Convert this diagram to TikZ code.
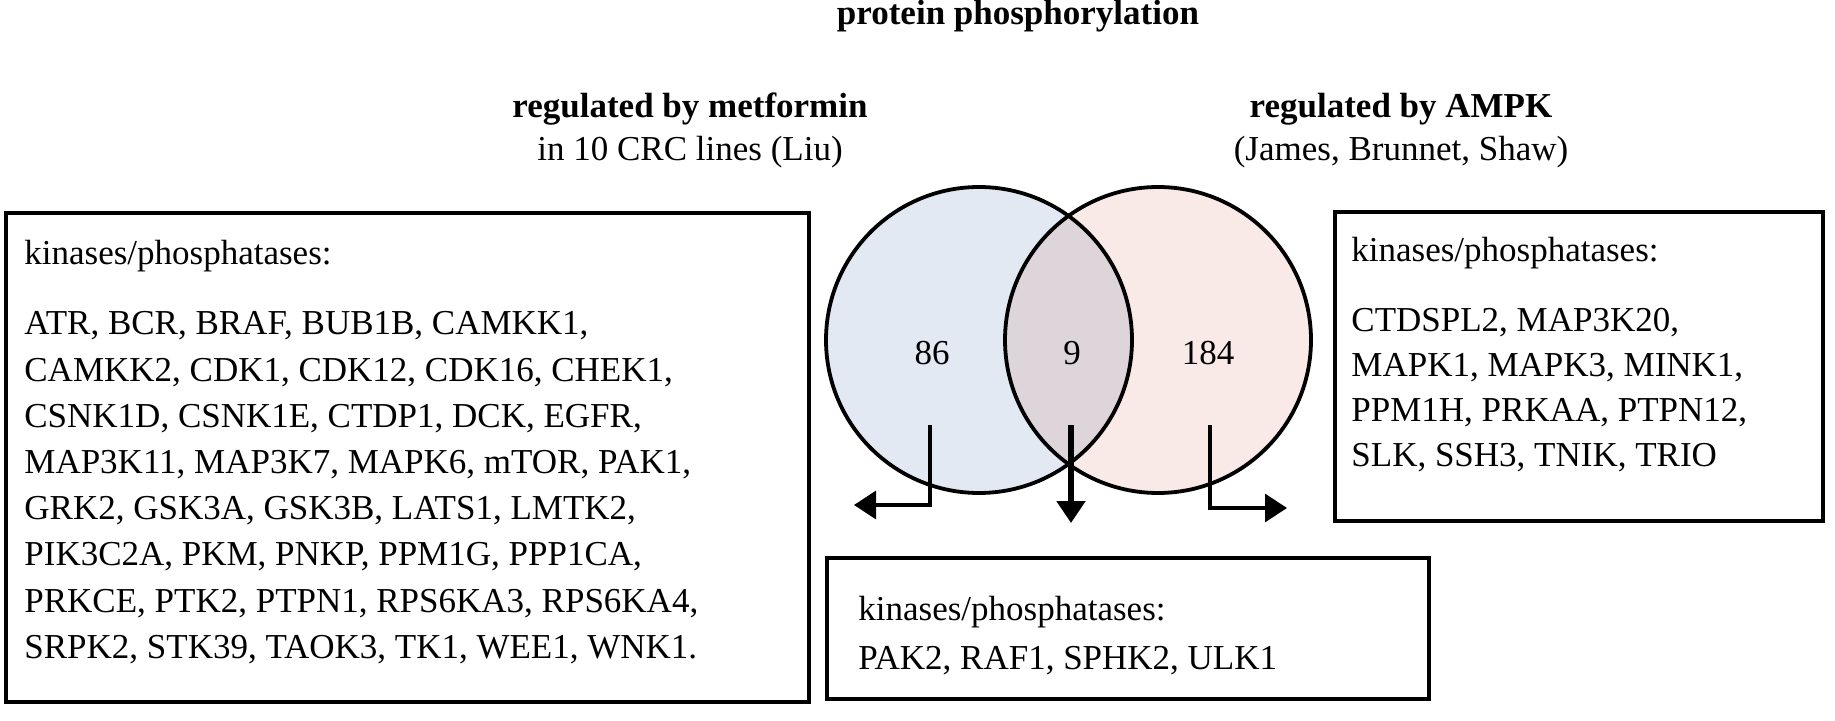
\documentclass[tikz,border=0pt]{standalone}
\usepackage{fontspec}
\setmainfont{Liberation Serif}
\usetikzlibrary{arrows.meta}
\begin{document}
\begin{tikzpicture}[x=0.5pt,y=-0.5pt,
  box/.style={draw,line width=1.6pt},
  txt/.style={anchor=west,inner sep=0pt,font=\fontsize{17.5}{21}\selectfont},
  ttl/.style={inner sep=0pt,font=\fontsize{17.5}{21}\selectfont},
  venn/.style={line width=1.9pt},
  arr/.style={line width=1.6pt,-{Triangle[length=11pt,width=14pt]}}]
\useasboundingbox (0,0) rectangle (1835,721);
\node[ttl,font=\fontsize{17.5}{21}\selectfont\bfseries] (t) at (1018,16) {protein phosphorylation};
\node[ttl,font=\fontsize{17.5}{21}\selectfont\bfseries] (m1) at (690,109) {regulated by metformin};
\node[ttl] (m2) at (690,152) {in 10 CRC lines (Liu)};
\node[ttl,font=\fontsize{17.5}{21}\selectfont\bfseries] (a1) at (1401,109) {regulated by AMPK};
\node[ttl] (a2) at (1401,152) {(James, Brunnet, Shaw)};
% boxes
\draw[box] (6,213) rectangle (809,702);
\draw[box] (1335,212) rectangle (1823,521);
\draw[box] (827,558) rectangle (1429,699);
% left text
\node[txt] (lk) at (24,256) {kinases/phosphatases:};
\foreach \t [count=\i from 0] in {{ATR, BCR, BRAF, BUB1B, CAMKK1,},{CAMKK2, CDK1, CDK12, CDK16, CHEK1,},{CSNK1D, CSNK1E, CTDP1, DCK, EGFR,},{MAP3K11, MAP3K7, MAPK6, mTOR, PAK1,},{GRK2, GSK3A, GSK3B, LATS1, LMTK2,},{PIK3C2A, PKM, PNKP, PPM1G, PPP1CA,},{PRKCE, PTK2, PTPN1, RPS6KA3, RPS6KA4,},{SRPK2, STK39, TAOK3, TK1, WEE1, WNK1.}}
  \node[txt] (l\i) at (24,{326+46.2*\i}) {\t};
% right text
\node[txt] (rk) at (1351,253) {kinases/phosphatases:};
\foreach \t [count=\i from 0] in {{CTDSPL2, MAP3K20,},{MAPK1, MAPK3, MINK1,},{PPM1H, PRKAA, PTPN12,},{SLK, SSH3, TNIK, TRIO}}
  \node[txt] (r\i) at (1351,{323+45*\i}) {\t};
% bottom text
\node[txt] (bk) at (858,612) {kinases/phosphatases:};
\node[txt] (b0) at (858,661) {PAK2, RAF1, SPHK2, ULK1};
% venn
\fill[fill={rgb,255:red,227;green,233;blue,243}] (979,340) circle (153);
\fill[fill={rgb,255:red,249;green,234;blue,231}] (1158,340) circle (153);
\begin{scope}
\clip (979,340) circle (153);
\fill[fill={rgb,255:red,222;green,213;blue,219}] (1158,340) circle (153);
\end{scope}
\draw[venn] (979,340) circle (153);
\draw[venn] (1158,340) circle (153);
\node[ttl] (n1) at (932,353) {86};
\node[ttl] (n2) at (1072,353) {9};
\node[ttl] (n3) at (1208,353) {184};
% arrows
\coordinate (la) at (930,425); \coordinate (lt) at (854,505);
\coordinate (ma) at (1071,425); \coordinate (mt) at (1071,523);
\coordinate (ra) at (1210,425); \coordinate (rt) at (1287,508);
\draw[arr] (la) |- (lt);
\draw[arr,line width=2.6pt] (ma) -- (mt);
\draw[arr] (ra) |- (rt);
\end{tikzpicture}
\end{document}
